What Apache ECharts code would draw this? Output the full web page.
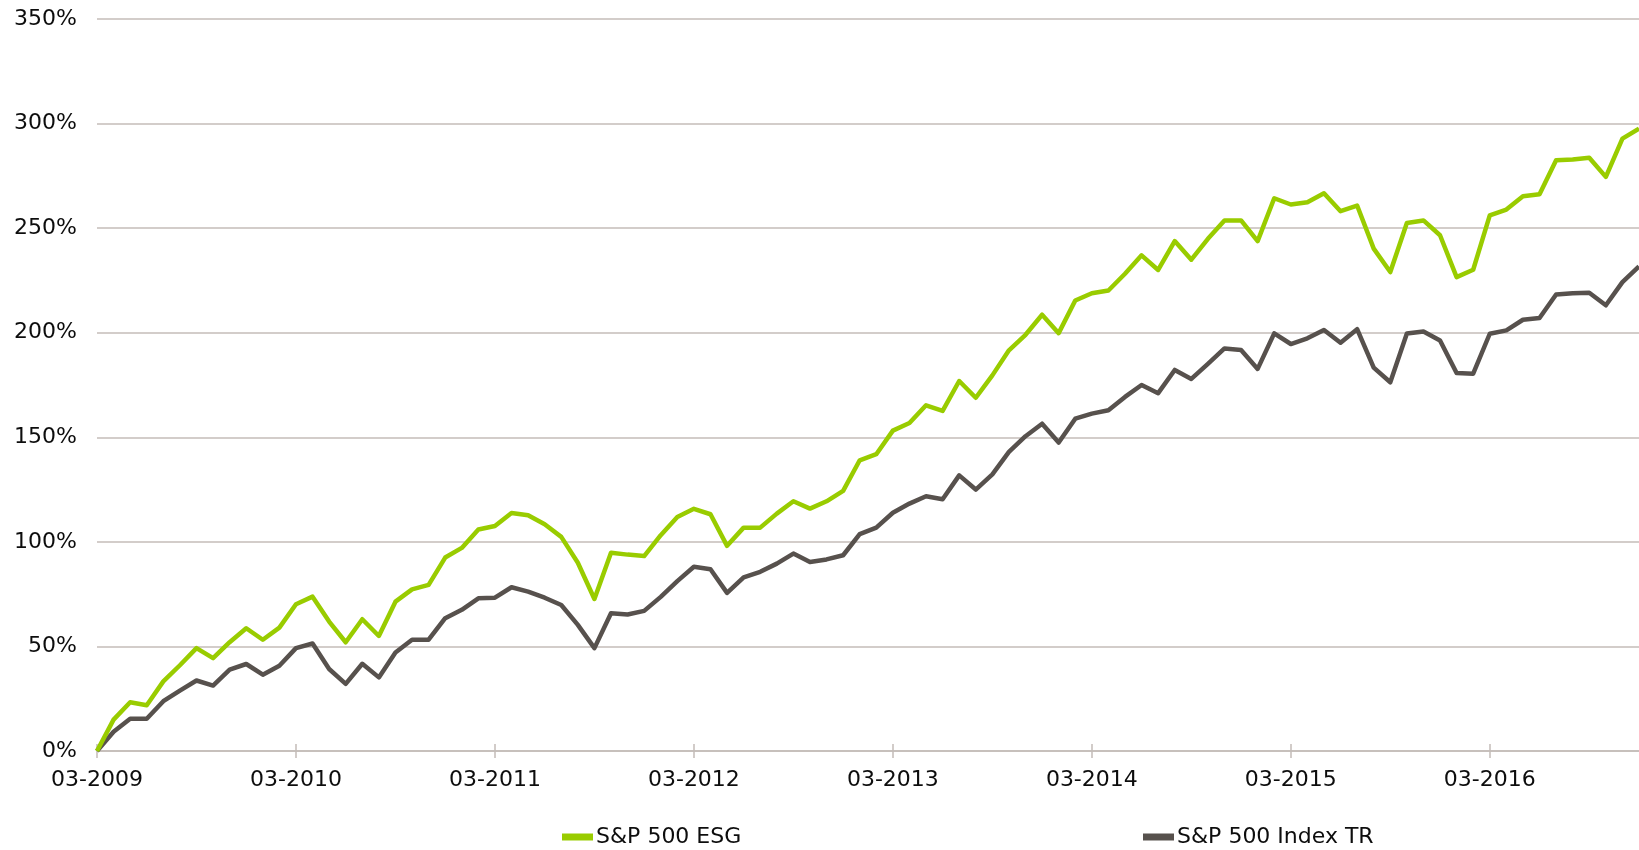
<!DOCTYPE html>
<html>
<head>
<meta charset="utf-8">
<script src="https://cdn.jsdelivr.net/npm/echarts@6/dist/echarts.min.js"></script>
<style>
html,body{margin:0;padding:0;background:#fff;}
#chart{width:1639px;height:850px;}
</style>
</head>
<body>
<div id="chart"></div>
<script>
// Monthly categories 03-2009 .. 12-2016
const months = [];
for (let y = 2009; y <= 2016; y++) {
  for (let m = (y === 2009 ? 3 : 1); m <= 12; m++) {
    months.push((m < 10 ? '0' + m : '' + m) + '-' + y);
  }
}

const seriesNames = ['S&P 500 ESG', 'S&P 500 Index TR'];

const esg = [
  0, 15, 23.3, 21.9, 33.3, 41, 49.2, 44.4, 52, 58.7,
  53.2, 59, 70.2, 73.8, 61.9, 52, 63, 55, 71.4, 77.3,
  79.4, 92.5, 97.1, 105.9, 107.6, 113.8, 112.7, 108.4, 102.4, 90,
  72.7, 94.8, 93.9, 93.2, 103.2, 111.9, 115.8, 113.2, 98.1, 106.8,
  106.8, 113.5, 119.4, 115.9, 119.4, 124.4, 139, 141.9, 153.2, 156.8,
  165.3, 162.6, 176.9, 168.9, 179.6, 191.6, 199, 208.6, 199.8, 215.4,
  218.9, 220.2, 228.2, 237, 230, 243.8, 234.9, 244.9, 253.7, 253.7,
  243.8, 264.3, 261.3, 262.4, 266.7, 258.1, 260.8, 240.2, 229, 252.5,
  253.7, 246.6, 226.6, 230.1, 256.1, 258.9, 265.2, 266.2, 282.5, 282.8,
  283.7, 274.5, 292.8, 297.6
];

const sp500 = [
  0, 9.2, 15.4, 15.4, 23.8, 28.9, 33.7, 31.3, 38.9, 41.6,
  36.5, 40.8, 49.2, 51.4, 39.2, 32.1, 41.7, 35.2, 47.1, 53.2,
  53.2, 63.5, 67.5, 73, 73.3, 78.3, 76.2, 73.3, 69.8, 60.3,
  49.2, 65.9, 65.3, 67, 73.7, 81.2, 88.1, 86.9, 75.6, 83,
  85.7, 89.6, 94.4, 90.4, 91.6, 93.6, 103.7, 106.8, 113.9, 118.3,
  121.8, 120.4, 131.8, 125, 132.3, 143, 150.5, 156.5, 147.5, 158.9,
  161.3, 162.9, 169.3, 175, 171.1, 182.2, 177.9, 185.1, 192.5, 191.7,
  182.7, 199.7, 194.6, 197.3, 201.3, 195.2, 201.7, 183.3, 176.3, 199.6,
  200.6, 196.3, 180.7, 180.4, 199.5, 201.1, 206.2, 207, 218.3, 218.9,
  219.1, 213.1, 224.2, 231.7
];

const yTicks = { min: 0, max: 350, step: 50 };

const FONT = '"DejaVu Sans", Verdana, sans-serif';
const GRID_COLOR = '#C4BCB8';
const TEXT_COLOR = '#0d0d0d';
const COLORS = ['#99CC00', '#57514D'];
const FS = 22;

const chart = echarts.init(document.getElementById('chart'), null, { renderer: 'canvas' });

chart.setOption({
  animation: false,
  backgroundColor: '#ffffff',
  textStyle: { fontFamily: FONT },
  grid: { left: 97, right: 0, top: 19, bottom: 99, containLabel: false },
  legend: [
    {
      data: [seriesNames[0]],
      left: 562, top: 826, padding: 0,
      itemWidth: 31, itemHeight: 7, itemGap: 0,
      icon: 'rect',
      textStyle: { fontFamily: FONT, fontSize: FS, color: TEXT_COLOR, padding: [0, 0, 0, -2] }
    },
    {
      data: [seriesNames[1]],
      left: 1143, top: 826, padding: 0,
      itemWidth: 31, itemHeight: 7, itemGap: 0,
      icon: 'rect',
      textStyle: { fontFamily: FONT, fontSize: FS, color: TEXT_COLOR, padding: [0, 0, 0, -2] }
    }
  ],
  xAxis: [
    {
      type: 'category',
      data: months,
      boundaryGap: false,
      position: 'bottom',
      axisLine: { show: true, lineStyle: { color: GRID_COLOR, width: 1.5 } },
      axisTick: { show: true, interval: 11, length: 7, lineStyle: { color: GRID_COLOR, width: 1.5 } },
      axisLabel: { show: true, interval: 11, margin: 18, fontFamily: FONT, fontSize: FS, color: TEXT_COLOR },
      splitLine: { show: false }
    },
    {
      type: 'category',
      data: months,
      boundaryGap: false,
      position: 'bottom',
      axisLine: { show: false },
      axisTick: { show: true, inside: true, interval: 11, length: 7, lineStyle: { color: GRID_COLOR, width: 1.5 } },
      axisLabel: { show: false },
      splitLine: { show: false }
    }
  ],
  yAxis: {
    type: 'value',
    min: yTicks.min,
    max: yTicks.max,
    interval: yTicks.step,
    axisLine: { show: false },
    axisTick: { show: false },
    axisLabel: { margin: 20, fontFamily: FONT, fontSize: FS, color: TEXT_COLOR, formatter: '{value}%' },
    splitLine: { show: true, lineStyle: { color: GRID_COLOR, width: 1.5 } }
  },
  series: [
    {
      name: seriesNames[0],
      type: 'line',
      data: esg,
      xAxisIndex: 0,
      showSymbol: false,
      symbol: 'none',
      color: COLORS[0],
      lineStyle: { color: COLORS[0], width: 4.5, join: 'round' },
      z: 3
    },
    {
      name: seriesNames[1],
      type: 'line',
      data: sp500,
      xAxisIndex: 0,
      showSymbol: false,
      symbol: 'none',
      color: COLORS[1],
      lineStyle: { color: COLORS[1], width: 4.5, join: 'round' },
      z: 2
    }
  ]
});
</script>
</body>
</html>
